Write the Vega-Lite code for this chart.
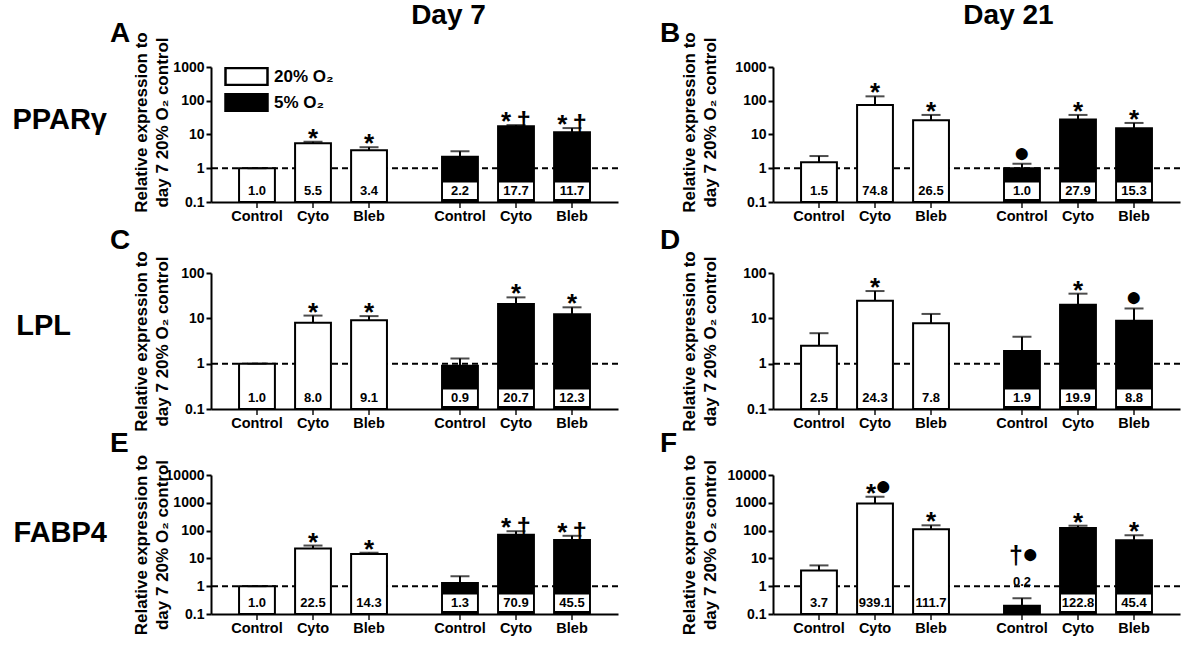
{
  "$schema": "https://vega.github.io/schema/vega-lite/v6.json",
  "background": "white",
  "padding": {"left": 12, "top": 1, "right": 5, "bottom": 5},
  "datasets": {
    "expr": [
      {"panel": "A", "oxygen": "20%", "treatment": "Control", "value": 1.0, "upper": 1.0, "sig": "", "dot": ""},
      {"panel": "A", "oxygen": "20%", "treatment": "Cyto", "value": 5.5, "upper": 6.1, "sig": "*", "dot": ""},
      {"panel": "A", "oxygen": "20%", "treatment": "Bleb", "value": 3.4, "upper": 4.2, "sig": "*", "dot": ""},
      {"panel": "A", "oxygen": "5%", "treatment": "Control", "value": 2.2, "upper": 3.2, "sig": "", "dot": ""},
      {"panel": "A", "oxygen": "5%", "treatment": "Cyto", "value": 17.7, "upper": 19.0, "sig": "*\u2009†", "dot": ""},
      {"panel": "A", "oxygen": "5%", "treatment": "Bleb", "value": 11.7, "upper": 15.5, "sig": "*\u2009†", "dot": ""},
      {"panel": "B", "oxygen": "20%", "treatment": "Control", "value": 1.5, "upper": 2.3, "sig": "", "dot": ""},
      {"panel": "B", "oxygen": "20%", "treatment": "Cyto", "value": 74.8, "upper": 135, "sig": "*", "dot": ""},
      {"panel": "B", "oxygen": "20%", "treatment": "Bleb", "value": 26.5, "upper": 38, "sig": "*", "dot": ""},
      {"panel": "B", "oxygen": "5%", "treatment": "Control", "value": 1.0, "upper": 1.35, "sig": "", "dot": "●"},
      {"panel": "B", "oxygen": "5%", "treatment": "Cyto", "value": 27.9, "upper": 38, "sig": "*", "dot": ""},
      {"panel": "B", "oxygen": "5%", "treatment": "Bleb", "value": 15.3, "upper": 22, "sig": "*", "dot": ""},
      {"panel": "C", "oxygen": "20%", "treatment": "Control", "value": 1.0, "upper": 1.0, "sig": "", "dot": ""},
      {"panel": "C", "oxygen": "20%", "treatment": "Cyto", "value": 8.0, "upper": 11.5, "sig": "*", "dot": ""},
      {"panel": "C", "oxygen": "20%", "treatment": "Bleb", "value": 9.1, "upper": 11.2, "sig": "*", "dot": ""},
      {"panel": "C", "oxygen": "5%", "treatment": "Control", "value": 0.9, "upper": 1.3, "sig": "", "dot": ""},
      {"panel": "C", "oxygen": "5%", "treatment": "Cyto", "value": 20.7, "upper": 29, "sig": "*", "dot": ""},
      {"panel": "C", "oxygen": "5%", "treatment": "Bleb", "value": 12.3, "upper": 17.5, "sig": "*", "dot": ""},
      {"panel": "D", "oxygen": "20%", "treatment": "Control", "value": 2.5, "upper": 4.7, "sig": "", "dot": ""},
      {"panel": "D", "oxygen": "20%", "treatment": "Cyto", "value": 24.3, "upper": 40, "sig": "*", "dot": ""},
      {"panel": "D", "oxygen": "20%", "treatment": "Bleb", "value": 7.8, "upper": 12.5, "sig": "", "dot": ""},
      {"panel": "D", "oxygen": "5%", "treatment": "Control", "value": 1.9, "upper": 3.9, "sig": "", "dot": ""},
      {"panel": "D", "oxygen": "5%", "treatment": "Cyto", "value": 19.9, "upper": 35, "sig": "*", "dot": ""},
      {"panel": "D", "oxygen": "5%", "treatment": "Bleb", "value": 8.8, "upper": 16.5, "sig": "", "dot": "●"},
      {"panel": "E", "oxygen": "20%", "treatment": "Control", "value": 1.0, "upper": 1.0, "sig": "", "dot": ""},
      {"panel": "E", "oxygen": "20%", "treatment": "Cyto", "value": 22.5, "upper": 29, "sig": "*", "dot": ""},
      {"panel": "E", "oxygen": "20%", "treatment": "Bleb", "value": 14.3, "upper": 16, "sig": "*", "dot": ""},
      {"panel": "E", "oxygen": "5%", "treatment": "Control", "value": 1.3, "upper": 2.3, "sig": "", "dot": ""},
      {"panel": "E", "oxygen": "5%", "treatment": "Cyto", "value": 70.9, "upper": 95, "sig": "*\u2009†", "dot": ""},
      {"panel": "E", "oxygen": "5%", "treatment": "Bleb", "value": 45.5, "upper": 65, "sig": "*\u2009†", "dot": ""},
      {"panel": "F", "oxygen": "20%", "treatment": "Control", "value": 3.7, "upper": 5.6, "sig": "", "dot": ""},
      {"panel": "F", "oxygen": "20%", "treatment": "Cyto", "value": 939.1, "upper": 1650, "sig": "*", "dot": "●"},
      {"panel": "F", "oxygen": "20%", "treatment": "Bleb", "value": 111.7, "upper": 155, "sig": "*", "dot": ""},
      {"panel": "F", "oxygen": "5%", "treatment": "Control", "value": 0.2, "upper": 0.37, "sig": "†", "dot": "●"},
      {"panel": "F", "oxygen": "5%", "treatment": "Cyto", "value": 122.8, "upper": 150, "sig": "*", "dot": ""},
      {"panel": "F", "oxygen": "5%", "treatment": "Bleb", "value": 45.4, "upper": 68, "sig": "*", "dot": ""}
    ]
  },
  "data": {"name": "expr"},
  "spacing": 2,
  "resolve": {"scale": {"fill": "independent"}, "legend": {"fill": "independent"}},
  "vconcat": [
    {
      "spacing": 41,
      "resolve": {"scale": {"fill": "independent"}, "legend": {"fill": "independent"}},
      "title": {"text": "PPARγ", "orient": "left", "anchor": "middle", "frame": "bounds", "angle": 0, "align": "left", "baseline": "middle", "offset": 3, "dy": 7, "fontSize": 29, "fontWeight": "bold", "color": "black"},
      "hconcat": [
        {
          "title": {"text": "Day 7", "anchor": "middle", "frame": "bounds", "dx": 84, "offset": -10, "fontSize": 28, "fontWeight": "bold", "color": "black"},
          "resolve": {"scale": {"fill": "independent"}, "legend": {"fill": "independent"}},
          "vconcat": [
            {
              "width": 407, "height": 135,
              "title": {"text": "A", "anchor": "start", "frame": "group", "dx": -101, "offset": -16, "fontSize": 28, "fontWeight": "bold", "color": "black"},
              "transform": [{"filter": "datum.panel === 'A'"}],
              "layer": [
                {"transform": [{"aggregate": [{"op": "count", "as": "n"}]}], "mark": {"type": "rule", "strokeDash": [6, 4], "strokeWidth": 2, "color": "black"}, "encoding": {"y": {"datum": 1, "type": "quantitative"}}},
                {"mark": {"type": "tick", "orient": "vertical", "size": 12, "thickness": 2, "color": "black"}, "encoding": {"x": {"field": "oxygen", "type": "nominal", "sort": ["20%", "5%"], "scale": {"paddingInner": 0.172, "paddingOuter": 0.0885}, "axis": {"labels": false, "ticks": false, "title": null, "domainWidth": 2, "domainColor": "black"}}, "xOffset": {"field": "treatment", "type": "nominal", "sort": ["Control", "Cyto", "Bleb"], "scale": {"paddingInner": 0.36, "paddingOuter": 0.18}}, "y": {"datum": 0.1, "type": "quantitative"}}},
                {"mark": {"type": "bar", "stroke": "black", "strokeWidth": 2}, "encoding": {"x": {"field": "oxygen", "type": "nominal", "sort": ["20%", "5%"]}, "xOffset": {"field": "treatment", "type": "nominal", "sort": ["Control", "Cyto", "Bleb"]}, "y": {"field": "value", "type": "quantitative", "scale": {"type": "log", "domain": [0.1, 1000]}, "axis": {"values": [0.1, 1, 10, 100, 1000], "labelExpr": "datum.value < 1 ? '0.1' : format(datum.value, 'd')", "title": ["Relative expression to", "day 7 20% O₂ control"], "titleY": 55, "minExtent": 33, "maxExtent": 33, "titlePadding": 7}}, "y2": {"datum": 0.1}, "fill": {"field": "oxygen", "type": "nominal", "scale": {"domain": ["20%", "5%"], "range": ["white", "black"]}, "legend": {"orient": "none", "legendX": 13, "legendY": 0, "title": null, "direction": "vertical", "symbolType": "M-1,-0.4H1V0.4H-1Z", "symbolSize": 1764, "symbolStrokeColor": "black", "symbolStrokeWidth": 2.5, "labelFontSize": 17, "labelFontWeight": "bold", "labelColor": "black", "labelFont": "Liberation Sans", "labelExpr": "datum.label + ' O₂'", "clipHeight": 19, "rowPadding": 7, "labelOffset": 5, "padding": 0}}}},
                {"mark": {"type": "rule", "strokeWidth": 2, "color": "black"}, "encoding": {"x": {"field": "oxygen", "type": "nominal", "sort": ["20%", "5%"]}, "xOffset": {"field": "treatment", "type": "nominal", "sort": ["Control", "Cyto", "Bleb"]}, "y": {"field": "value", "type": "quantitative"}, "y2": {"field": "upper"}}},
                {"mark": {"type": "tick", "size": 19, "thickness": 2, "color": "black"}, "encoding": {"x": {"field": "oxygen", "type": "nominal", "sort": ["20%", "5%"]}, "xOffset": {"field": "treatment", "type": "nominal", "sort": ["Control", "Cyto", "Bleb"]}, "y": {"field": "upper", "type": "quantitative"}}},
                {"transform": [{"filter": "datum.oxygen === '5%' && datum.value >= 0.5"}], "mark": {"type": "point", "shape": "M-1,-1.15H1V-0.18H-1Z", "size": 1156, "filled": true, "fill": "white", "opacity": 1, "strokeWidth": 0}, "encoding": {"x": {"field": "oxygen", "type": "nominal", "sort": ["20%", "5%"]}, "xOffset": {"field": "treatment", "type": "nominal", "sort": ["Control", "Cyto", "Bleb"]}, "y": {"datum": 0.1, "type": "quantitative"}}},
                {"transform": [{"filter": "datum.value >= 0.5"}], "mark": {"type": "text", "dy": -11, "fontSize": 13, "fontWeight": "bold", "baseline": "middle", "color": "black"}, "encoding": {"x": {"field": "oxygen", "type": "nominal", "sort": ["20%", "5%"]}, "xOffset": {"field": "treatment", "type": "nominal", "sort": ["Control", "Cyto", "Bleb"]}, "y": {"datum": 0.1, "type": "quantitative"}, "text": {"field": "value", "type": "quantitative", "format": ".1f"}}},
                {"mark": {"type": "text", "dy": 15, "fontSize": 14.5, "fontWeight": "bold", "baseline": "middle", "color": "black"}, "encoding": {"x": {"field": "oxygen", "type": "nominal", "sort": ["20%", "5%"]}, "xOffset": {"field": "treatment", "type": "nominal", "sort": ["Control", "Cyto", "Bleb"]}, "y": {"datum": 0.1, "type": "quantitative"}, "text": {"field": "treatment", "type": "nominal"}}},
                {"transform": [{"filter": "datum.sig !== '' && datum.dot === '' && datum.value >= 0.5"}], "mark": {"type": "text", "dy": 5, "fontSize": 26, "fontWeight": "bold", "baseline": "alphabetic", "color": "black"}, "encoding": {"x": {"field": "oxygen", "type": "nominal", "sort": ["20%", "5%"]}, "xOffset": {"field": "treatment", "type": "nominal", "sort": ["Control", "Cyto", "Bleb"]}, "y": {"field": "upper", "type": "quantitative"}, "text": {"field": "sig", "type": "nominal"}}}
              ]
            }
          ]
        },
        {
          "title": {"text": "Day 21", "anchor": "middle", "frame": "bounds", "dx": 88, "offset": -10, "fontSize": 28, "fontWeight": "bold", "color": "black"},
          "vconcat": [
            {
              "width": 407, "height": 135,
              "title": {"text": "B", "anchor": "start", "frame": "group", "dx": -113, "offset": -16, "fontSize": 28, "fontWeight": "bold", "color": "black"},
              "transform": [{"filter": "datum.panel === 'B'"}],
              "layer": [
                {"transform": [{"aggregate": [{"op": "count", "as": "n"}]}], "mark": {"type": "rule", "strokeDash": [6, 4], "strokeWidth": 2, "color": "black"}, "encoding": {"y": {"datum": 1, "type": "quantitative"}}},
                {"mark": {"type": "tick", "orient": "vertical", "size": 12, "thickness": 2, "color": "black"}, "encoding": {"x": {"field": "oxygen", "type": "nominal", "sort": ["20%", "5%"], "scale": {"paddingInner": 0.172, "paddingOuter": 0.0885}, "axis": {"labels": false, "ticks": false, "title": null, "domainWidth": 2, "domainColor": "black"}}, "xOffset": {"field": "treatment", "type": "nominal", "sort": ["Control", "Cyto", "Bleb"], "scale": {"paddingInner": 0.36, "paddingOuter": 0.18}}, "y": {"datum": 0.1, "type": "quantitative"}}},
                {"mark": {"type": "bar", "stroke": "black", "strokeWidth": 2}, "encoding": {"x": {"field": "oxygen", "type": "nominal", "sort": ["20%", "5%"]}, "xOffset": {"field": "treatment", "type": "nominal", "sort": ["Control", "Cyto", "Bleb"]}, "y": {"field": "value", "type": "quantitative", "scale": {"type": "log", "domain": [0.1, 1000]}, "axis": {"values": [0.1, 1, 10, 100, 1000], "labelExpr": "datum.value < 1 ? '0.1' : format(datum.value, 'd')", "title": ["Relative expression to", "day 7 20% O₂ control"], "titleY": 55, "minExtent": 45, "maxExtent": 45, "titlePadding": 9}}, "y2": {"datum": 0.1}, "fill": {"condition": {"test": "datum.oxygen === '5%'", "value": "black"}, "value": "white"}}},
                {"mark": {"type": "rule", "strokeWidth": 2, "color": "black"}, "encoding": {"x": {"field": "oxygen", "type": "nominal", "sort": ["20%", "5%"]}, "xOffset": {"field": "treatment", "type": "nominal", "sort": ["Control", "Cyto", "Bleb"]}, "y": {"field": "value", "type": "quantitative"}, "y2": {"field": "upper"}}},
                {"mark": {"type": "tick", "size": 19, "thickness": 2, "color": "black"}, "encoding": {"x": {"field": "oxygen", "type": "nominal", "sort": ["20%", "5%"]}, "xOffset": {"field": "treatment", "type": "nominal", "sort": ["Control", "Cyto", "Bleb"]}, "y": {"field": "upper", "type": "quantitative"}}},
                {"transform": [{"filter": "datum.oxygen === '5%' && datum.value >= 0.5"}], "mark": {"type": "point", "shape": "M-1,-1.15H1V-0.18H-1Z", "size": 1156, "filled": true, "fill": "white", "opacity": 1, "strokeWidth": 0}, "encoding": {"x": {"field": "oxygen", "type": "nominal", "sort": ["20%", "5%"]}, "xOffset": {"field": "treatment", "type": "nominal", "sort": ["Control", "Cyto", "Bleb"]}, "y": {"datum": 0.1, "type": "quantitative"}}},
                {"transform": [{"filter": "datum.value >= 0.5"}], "mark": {"type": "text", "dy": -11, "fontSize": 13, "fontWeight": "bold", "baseline": "middle", "color": "black"}, "encoding": {"x": {"field": "oxygen", "type": "nominal", "sort": ["20%", "5%"]}, "xOffset": {"field": "treatment", "type": "nominal", "sort": ["Control", "Cyto", "Bleb"]}, "y": {"datum": 0.1, "type": "quantitative"}, "text": {"field": "value", "type": "quantitative", "format": ".1f"}}},
                {"mark": {"type": "text", "dy": 15, "fontSize": 14.5, "fontWeight": "bold", "baseline": "middle", "color": "black"}, "encoding": {"x": {"field": "oxygen", "type": "nominal", "sort": ["20%", "5%"]}, "xOffset": {"field": "treatment", "type": "nominal", "sort": ["Control", "Cyto", "Bleb"]}, "y": {"datum": 0.1, "type": "quantitative"}, "text": {"field": "treatment", "type": "nominal"}}},
                {"transform": [{"filter": "datum.sig !== '' && datum.dot === '' && datum.value >= 0.5"}], "mark": {"type": "text", "dy": 5, "fontSize": 26, "fontWeight": "bold", "baseline": "alphabetic", "color": "black"}, "encoding": {"x": {"field": "oxygen", "type": "nominal", "sort": ["20%", "5%"]}, "xOffset": {"field": "treatment", "type": "nominal", "sort": ["Control", "Cyto", "Bleb"]}, "y": {"field": "upper", "type": "quantitative"}, "text": {"field": "sig", "type": "nominal"}}},
                {"transform": [{"filter": "datum.dot !== '' && datum.sig === ''"}], "mark": {"type": "text", "dy": -2, "fontSize": 28, "fontWeight": "bold", "baseline": "alphabetic", "color": "black"}, "encoding": {"x": {"field": "oxygen", "type": "nominal", "sort": ["20%", "5%"]}, "xOffset": {"field": "treatment", "type": "nominal", "sort": ["Control", "Cyto", "Bleb"]}, "y": {"field": "upper", "type": "quantitative"}, "text": {"field": "dot", "type": "nominal"}}}
              ]
            }
          ]
        }
      ]
    },
    {
      "spacing": -2,
      "vconcat": [
        {
          "spacing": 41,
          "title": {"text": "LPL", "orient": "left", "anchor": "middle", "frame": "bounds", "angle": 0, "align": "left", "baseline": "middle", "offset": 3, "dx": -36, "dy": -3, "fontSize": 29, "fontWeight": "bold", "color": "black"},
          "hconcat": [
            {
              "width": 407, "height": 136,
              "title": {"text": "C", "anchor": "start", "frame": "group", "dx": -101, "offset": -4, "fontSize": 28, "fontWeight": "bold", "color": "black"},
              "transform": [{"filter": "datum.panel === 'C'"}],
              "layer": [
                {"transform": [{"aggregate": [{"op": "count", "as": "n"}]}], "mark": {"type": "rule", "strokeDash": [6, 4], "strokeWidth": 2, "color": "black"}, "encoding": {"y": {"datum": 1, "type": "quantitative"}}},
                {"mark": {"type": "tick", "orient": "vertical", "size": 12, "thickness": 2, "color": "black"}, "encoding": {"x": {"field": "oxygen", "type": "nominal", "sort": ["20%", "5%"], "scale": {"paddingInner": 0.172, "paddingOuter": 0.0885}, "axis": {"labels": false, "ticks": false, "title": null, "domainWidth": 2, "domainColor": "black"}}, "xOffset": {"field": "treatment", "type": "nominal", "sort": ["Control", "Cyto", "Bleb"], "scale": {"paddingInner": 0.36, "paddingOuter": 0.18}}, "y": {"datum": 0.1, "type": "quantitative"}}},
                {"mark": {"type": "bar", "stroke": "black", "strokeWidth": 2}, "encoding": {"x": {"field": "oxygen", "type": "nominal", "sort": ["20%", "5%"]}, "xOffset": {"field": "treatment", "type": "nominal", "sort": ["Control", "Cyto", "Bleb"]}, "y": {"field": "value", "type": "quantitative", "scale": {"type": "log", "domain": [0.1, 100]}, "axis": {"values": [0.1, 1, 10, 100], "labelExpr": "datum.value < 1 ? '0.1' : format(datum.value, 'd')", "title": ["Relative expression to", "day 7 20% O₂ control"], "minExtent": 33, "maxExtent": 33, "titlePadding": 7}}, "y2": {"datum": 0.1}, "fill": {"condition": {"test": "datum.oxygen === '5%'", "value": "black"}, "value": "white"}}},
                {"mark": {"type": "rule", "strokeWidth": 2, "color": "black"}, "encoding": {"x": {"field": "oxygen", "type": "nominal", "sort": ["20%", "5%"]}, "xOffset": {"field": "treatment", "type": "nominal", "sort": ["Control", "Cyto", "Bleb"]}, "y": {"field": "value", "type": "quantitative"}, "y2": {"field": "upper"}}},
                {"mark": {"type": "tick", "size": 19, "thickness": 2, "color": "black"}, "encoding": {"x": {"field": "oxygen", "type": "nominal", "sort": ["20%", "5%"]}, "xOffset": {"field": "treatment", "type": "nominal", "sort": ["Control", "Cyto", "Bleb"]}, "y": {"field": "upper", "type": "quantitative"}}},
                {"transform": [{"filter": "datum.oxygen === '5%' && datum.value >= 0.5"}], "mark": {"type": "point", "shape": "M-1,-1.15H1V-0.18H-1Z", "size": 1156, "filled": true, "fill": "white", "opacity": 1, "strokeWidth": 0}, "encoding": {"x": {"field": "oxygen", "type": "nominal", "sort": ["20%", "5%"]}, "xOffset": {"field": "treatment", "type": "nominal", "sort": ["Control", "Cyto", "Bleb"]}, "y": {"datum": 0.1, "type": "quantitative"}}},
                {"transform": [{"filter": "datum.value >= 0.5"}], "mark": {"type": "text", "dy": -11, "fontSize": 13, "fontWeight": "bold", "baseline": "middle", "color": "black"}, "encoding": {"x": {"field": "oxygen", "type": "nominal", "sort": ["20%", "5%"]}, "xOffset": {"field": "treatment", "type": "nominal", "sort": ["Control", "Cyto", "Bleb"]}, "y": {"datum": 0.1, "type": "quantitative"}, "text": {"field": "value", "type": "quantitative", "format": ".1f"}}},
                {"mark": {"type": "text", "dy": 15, "fontSize": 14.5, "fontWeight": "bold", "baseline": "middle", "color": "black"}, "encoding": {"x": {"field": "oxygen", "type": "nominal", "sort": ["20%", "5%"]}, "xOffset": {"field": "treatment", "type": "nominal", "sort": ["Control", "Cyto", "Bleb"]}, "y": {"datum": 0.1, "type": "quantitative"}, "text": {"field": "treatment", "type": "nominal"}}},
                {"transform": [{"filter": "datum.sig !== '' && datum.dot === '' && datum.value >= 0.5"}], "mark": {"type": "text", "dy": 5, "fontSize": 26, "fontWeight": "bold", "baseline": "alphabetic", "color": "black"}, "encoding": {"x": {"field": "oxygen", "type": "nominal", "sort": ["20%", "5%"]}, "xOffset": {"field": "treatment", "type": "nominal", "sort": ["Control", "Cyto", "Bleb"]}, "y": {"field": "upper", "type": "quantitative"}, "text": {"field": "sig", "type": "nominal"}}}
              ]
            },
            {
              "width": 407, "height": 136,
              "title": {"text": "D", "anchor": "start", "frame": "group", "dx": -113, "offset": -4, "fontSize": 28, "fontWeight": "bold", "color": "black"},
              "transform": [{"filter": "datum.panel === 'D'"}],
              "layer": [
                {"transform": [{"aggregate": [{"op": "count", "as": "n"}]}], "mark": {"type": "rule", "strokeDash": [6, 4], "strokeWidth": 2, "color": "black"}, "encoding": {"y": {"datum": 1, "type": "quantitative"}}},
                {"mark": {"type": "tick", "orient": "vertical", "size": 12, "thickness": 2, "color": "black"}, "encoding": {"x": {"field": "oxygen", "type": "nominal", "sort": ["20%", "5%"], "scale": {"paddingInner": 0.172, "paddingOuter": 0.0885}, "axis": {"labels": false, "ticks": false, "title": null, "domainWidth": 2, "domainColor": "black"}}, "xOffset": {"field": "treatment", "type": "nominal", "sort": ["Control", "Cyto", "Bleb"], "scale": {"paddingInner": 0.36, "paddingOuter": 0.18}}, "y": {"datum": 0.1, "type": "quantitative"}}},
                {"mark": {"type": "bar", "stroke": "black", "strokeWidth": 2}, "encoding": {"x": {"field": "oxygen", "type": "nominal", "sort": ["20%", "5%"]}, "xOffset": {"field": "treatment", "type": "nominal", "sort": ["Control", "Cyto", "Bleb"]}, "y": {"field": "value", "type": "quantitative", "scale": {"type": "log", "domain": [0.1, 100]}, "axis": {"values": [0.1, 1, 10, 100], "labelExpr": "datum.value < 1 ? '0.1' : format(datum.value, 'd')", "title": ["Relative expression to", "day 7 20% O₂ control"], "minExtent": 45, "maxExtent": 45, "titlePadding": 9}}, "y2": {"datum": 0.1}, "fill": {"condition": {"test": "datum.oxygen === '5%'", "value": "black"}, "value": "white"}}},
                {"mark": {"type": "rule", "strokeWidth": 2, "color": "black"}, "encoding": {"x": {"field": "oxygen", "type": "nominal", "sort": ["20%", "5%"]}, "xOffset": {"field": "treatment", "type": "nominal", "sort": ["Control", "Cyto", "Bleb"]}, "y": {"field": "value", "type": "quantitative"}, "y2": {"field": "upper"}}},
                {"mark": {"type": "tick", "size": 19, "thickness": 2, "color": "black"}, "encoding": {"x": {"field": "oxygen", "type": "nominal", "sort": ["20%", "5%"]}, "xOffset": {"field": "treatment", "type": "nominal", "sort": ["Control", "Cyto", "Bleb"]}, "y": {"field": "upper", "type": "quantitative"}}},
                {"transform": [{"filter": "datum.oxygen === '5%' && datum.value >= 0.5"}], "mark": {"type": "point", "shape": "M-1,-1.15H1V-0.18H-1Z", "size": 1156, "filled": true, "fill": "white", "opacity": 1, "strokeWidth": 0}, "encoding": {"x": {"field": "oxygen", "type": "nominal", "sort": ["20%", "5%"]}, "xOffset": {"field": "treatment", "type": "nominal", "sort": ["Control", "Cyto", "Bleb"]}, "y": {"datum": 0.1, "type": "quantitative"}}},
                {"transform": [{"filter": "datum.value >= 0.5"}], "mark": {"type": "text", "dy": -11, "fontSize": 13, "fontWeight": "bold", "baseline": "middle", "color": "black"}, "encoding": {"x": {"field": "oxygen", "type": "nominal", "sort": ["20%", "5%"]}, "xOffset": {"field": "treatment", "type": "nominal", "sort": ["Control", "Cyto", "Bleb"]}, "y": {"datum": 0.1, "type": "quantitative"}, "text": {"field": "value", "type": "quantitative", "format": ".1f"}}},
                {"mark": {"type": "text", "dy": 15, "fontSize": 14.5, "fontWeight": "bold", "baseline": "middle", "color": "black"}, "encoding": {"x": {"field": "oxygen", "type": "nominal", "sort": ["20%", "5%"]}, "xOffset": {"field": "treatment", "type": "nominal", "sort": ["Control", "Cyto", "Bleb"]}, "y": {"datum": 0.1, "type": "quantitative"}, "text": {"field": "treatment", "type": "nominal"}}},
                {"transform": [{"filter": "datum.sig !== '' && datum.dot === '' && datum.value >= 0.5"}], "mark": {"type": "text", "dy": 5, "fontSize": 26, "fontWeight": "bold", "baseline": "alphabetic", "color": "black"}, "encoding": {"x": {"field": "oxygen", "type": "nominal", "sort": ["20%", "5%"]}, "xOffset": {"field": "treatment", "type": "nominal", "sort": ["Control", "Cyto", "Bleb"]}, "y": {"field": "upper", "type": "quantitative"}, "text": {"field": "sig", "type": "nominal"}}},
                {"transform": [{"filter": "datum.dot !== '' && datum.sig === ''"}], "mark": {"type": "text", "dy": -2, "fontSize": 28, "fontWeight": "bold", "baseline": "alphabetic", "color": "black"}, "encoding": {"x": {"field": "oxygen", "type": "nominal", "sort": ["20%", "5%"]}, "xOffset": {"field": "treatment", "type": "nominal", "sort": ["Control", "Cyto", "Bleb"]}, "y": {"field": "upper", "type": "quantitative"}, "text": {"field": "dot", "type": "nominal"}}}
              ]
            }
          ]
        },
        {
          "spacing": 41,
          "title": {"text": "FABP4", "orient": "left", "anchor": "middle", "frame": "bounds", "angle": 0, "align": "left", "baseline": "middle", "offset": 3, "fontSize": 29, "fontWeight": "bold", "color": "black"},
          "hconcat": [
            {
              "width": 407, "height": 139,
              "title": {"text": "E", "anchor": "start", "frame": "group", "dx": -101, "offset": -4, "fontSize": 28, "fontWeight": "bold", "color": "black"},
              "transform": [{"filter": "datum.panel === 'E'"}],
              "layer": [
                {"transform": [{"aggregate": [{"op": "count", "as": "n"}]}], "mark": {"type": "rule", "strokeDash": [6, 4], "strokeWidth": 2, "color": "black"}, "encoding": {"y": {"datum": 1, "type": "quantitative"}}},
                {"mark": {"type": "tick", "orient": "vertical", "size": 12, "thickness": 2, "color": "black"}, "encoding": {"x": {"field": "oxygen", "type": "nominal", "sort": ["20%", "5%"], "scale": {"paddingInner": 0.172, "paddingOuter": 0.0885}, "axis": {"labels": false, "ticks": false, "title": null, "domainWidth": 2, "domainColor": "black"}}, "xOffset": {"field": "treatment", "type": "nominal", "sort": ["Control", "Cyto", "Bleb"], "scale": {"paddingInner": 0.36, "paddingOuter": 0.18}}, "y": {"datum": 0.1, "type": "quantitative"}}},
                {"mark": {"type": "bar", "stroke": "black", "strokeWidth": 2}, "encoding": {"x": {"field": "oxygen", "type": "nominal", "sort": ["20%", "5%"]}, "xOffset": {"field": "treatment", "type": "nominal", "sort": ["Control", "Cyto", "Bleb"]}, "y": {"field": "value", "type": "quantitative", "scale": {"type": "log", "domain": [0.1, 10000]}, "axis": {"values": [0.1, 1, 10, 100, 1000, 10000], "labelExpr": "datum.value < 1 ? '0.1' : format(datum.value, 'd')", "title": ["Relative expression to", "day 7 20% O₂ control"], "minExtent": 33, "maxExtent": 33, "titlePadding": 7}}, "y2": {"datum": 0.1}, "fill": {"condition": {"test": "datum.oxygen === '5%'", "value": "black"}, "value": "white"}}},
                {"mark": {"type": "rule", "strokeWidth": 2, "color": "black"}, "encoding": {"x": {"field": "oxygen", "type": "nominal", "sort": ["20%", "5%"]}, "xOffset": {"field": "treatment", "type": "nominal", "sort": ["Control", "Cyto", "Bleb"]}, "y": {"field": "value", "type": "quantitative"}, "y2": {"field": "upper"}}},
                {"mark": {"type": "tick", "size": 19, "thickness": 2, "color": "black"}, "encoding": {"x": {"field": "oxygen", "type": "nominal", "sort": ["20%", "5%"]}, "xOffset": {"field": "treatment", "type": "nominal", "sort": ["Control", "Cyto", "Bleb"]}, "y": {"field": "upper", "type": "quantitative"}}},
                {"transform": [{"filter": "datum.oxygen === '5%' && datum.value >= 0.5"}], "mark": {"type": "point", "shape": "M-1,-1.15H1V-0.18H-1Z", "size": 1156, "filled": true, "fill": "white", "opacity": 1, "strokeWidth": 0}, "encoding": {"x": {"field": "oxygen", "type": "nominal", "sort": ["20%", "5%"]}, "xOffset": {"field": "treatment", "type": "nominal", "sort": ["Control", "Cyto", "Bleb"]}, "y": {"datum": 0.1, "type": "quantitative"}}},
                {"transform": [{"filter": "datum.value >= 0.5"}], "mark": {"type": "text", "dy": -11, "fontSize": 13, "fontWeight": "bold", "baseline": "middle", "color": "black"}, "encoding": {"x": {"field": "oxygen", "type": "nominal", "sort": ["20%", "5%"]}, "xOffset": {"field": "treatment", "type": "nominal", "sort": ["Control", "Cyto", "Bleb"]}, "y": {"datum": 0.1, "type": "quantitative"}, "text": {"field": "value", "type": "quantitative", "format": ".1f"}}},
                {"mark": {"type": "text", "dy": 15, "fontSize": 14.5, "fontWeight": "bold", "baseline": "middle", "color": "black"}, "encoding": {"x": {"field": "oxygen", "type": "nominal", "sort": ["20%", "5%"]}, "xOffset": {"field": "treatment", "type": "nominal", "sort": ["Control", "Cyto", "Bleb"]}, "y": {"datum": 0.1, "type": "quantitative"}, "text": {"field": "treatment", "type": "nominal"}}},
                {"transform": [{"filter": "datum.sig !== '' && datum.dot === '' && datum.value >= 0.5"}], "mark": {"type": "text", "dy": 5, "fontSize": 26, "fontWeight": "bold", "baseline": "alphabetic", "color": "black"}, "encoding": {"x": {"field": "oxygen", "type": "nominal", "sort": ["20%", "5%"]}, "xOffset": {"field": "treatment", "type": "nominal", "sort": ["Control", "Cyto", "Bleb"]}, "y": {"field": "upper", "type": "quantitative"}, "text": {"field": "sig", "type": "nominal"}}}
              ]
            },
            {
              "width": 407, "height": 139,
              "title": {"text": "F", "anchor": "start", "frame": "group", "dx": -113, "offset": -4, "fontSize": 28, "fontWeight": "bold", "color": "black"},
              "transform": [{"filter": "datum.panel === 'F'"}],
              "layer": [
                {"transform": [{"aggregate": [{"op": "count", "as": "n"}]}], "mark": {"type": "rule", "strokeDash": [6, 4], "strokeWidth": 2, "color": "black"}, "encoding": {"y": {"datum": 1, "type": "quantitative"}}},
                {"mark": {"type": "tick", "orient": "vertical", "size": 12, "thickness": 2, "color": "black"}, "encoding": {"x": {"field": "oxygen", "type": "nominal", "sort": ["20%", "5%"], "scale": {"paddingInner": 0.172, "paddingOuter": 0.0885}, "axis": {"labels": false, "ticks": false, "title": null, "domainWidth": 2, "domainColor": "black"}}, "xOffset": {"field": "treatment", "type": "nominal", "sort": ["Control", "Cyto", "Bleb"], "scale": {"paddingInner": 0.36, "paddingOuter": 0.18}}, "y": {"datum": 0.1, "type": "quantitative"}}},
                {"mark": {"type": "bar", "stroke": "black", "strokeWidth": 2}, "encoding": {"x": {"field": "oxygen", "type": "nominal", "sort": ["20%", "5%"]}, "xOffset": {"field": "treatment", "type": "nominal", "sort": ["Control", "Cyto", "Bleb"]}, "y": {"field": "value", "type": "quantitative", "scale": {"type": "log", "domain": [0.1, 10000]}, "axis": {"values": [0.1, 1, 10, 100, 1000, 10000], "labelExpr": "datum.value < 1 ? '0.1' : format(datum.value, 'd')", "title": ["Relative expression to", "day 7 20% O₂ control"], "minExtent": 45, "maxExtent": 45, "titlePadding": 9}}, "y2": {"datum": 0.1}, "fill": {"condition": {"test": "datum.oxygen === '5%'", "value": "black"}, "value": "white"}}},
                {"mark": {"type": "rule", "strokeWidth": 2, "color": "black"}, "encoding": {"x": {"field": "oxygen", "type": "nominal", "sort": ["20%", "5%"]}, "xOffset": {"field": "treatment", "type": "nominal", "sort": ["Control", "Cyto", "Bleb"]}, "y": {"field": "value", "type": "quantitative"}, "y2": {"field": "upper"}}},
                {"mark": {"type": "tick", "size": 19, "thickness": 2, "color": "black"}, "encoding": {"x": {"field": "oxygen", "type": "nominal", "sort": ["20%", "5%"]}, "xOffset": {"field": "treatment", "type": "nominal", "sort": ["Control", "Cyto", "Bleb"]}, "y": {"field": "upper", "type": "quantitative"}}},
                {"transform": [{"filter": "datum.oxygen === '5%' && datum.value >= 0.5"}], "mark": {"type": "point", "shape": "M-1,-1.15H1V-0.18H-1Z", "size": 1156, "filled": true, "fill": "white", "opacity": 1, "strokeWidth": 0}, "encoding": {"x": {"field": "oxygen", "type": "nominal", "sort": ["20%", "5%"]}, "xOffset": {"field": "treatment", "type": "nominal", "sort": ["Control", "Cyto", "Bleb"]}, "y": {"datum": 0.1, "type": "quantitative"}}},
                {"transform": [{"filter": "datum.value >= 0.5"}], "mark": {"type": "text", "dy": -11, "fontSize": 13, "fontWeight": "bold", "baseline": "middle", "color": "black"}, "encoding": {"x": {"field": "oxygen", "type": "nominal", "sort": ["20%", "5%"]}, "xOffset": {"field": "treatment", "type": "nominal", "sort": ["Control", "Cyto", "Bleb"]}, "y": {"datum": 0.1, "type": "quantitative"}, "text": {"field": "value", "type": "quantitative", "format": ".1f"}}},
                {"transform": [{"filter": "datum.value < 0.5"}], "mark": {"type": "text", "dy": -16, "fontSize": 13, "fontWeight": "bold", "baseline": "middle", "color": "black"}, "encoding": {"x": {"field": "oxygen", "type": "nominal", "sort": ["20%", "5%"]}, "xOffset": {"field": "treatment", "type": "nominal", "sort": ["Control", "Cyto", "Bleb"]}, "y": {"field": "upper", "type": "quantitative"}, "text": {"field": "value", "type": "quantitative", "format": ".1f"}}},
                {"mark": {"type": "text", "dy": 15, "fontSize": 14.5, "fontWeight": "bold", "baseline": "middle", "color": "black"}, "encoding": {"x": {"field": "oxygen", "type": "nominal", "sort": ["20%", "5%"]}, "xOffset": {"field": "treatment", "type": "nominal", "sort": ["Control", "Cyto", "Bleb"]}, "y": {"datum": 0.1, "type": "quantitative"}, "text": {"field": "treatment", "type": "nominal"}}},
                {"transform": [{"filter": "datum.sig !== '' && datum.dot === '' && datum.value >= 0.5"}], "mark": {"type": "text", "dy": 5, "fontSize": 26, "fontWeight": "bold", "baseline": "alphabetic", "color": "black"}, "encoding": {"x": {"field": "oxygen", "type": "nominal", "sort": ["20%", "5%"]}, "xOffset": {"field": "treatment", "type": "nominal", "sort": ["Control", "Cyto", "Bleb"]}, "y": {"field": "upper", "type": "quantitative"}, "text": {"field": "sig", "type": "nominal"}}},
                {"transform": [{"filter": "datum.sig !== '' && datum.dot !== '' && datum.value >= 0.5"}], "mark": {"type": "text", "dy": 5, "dx": 1, "align": "right", "fontSize": 26, "fontWeight": "bold", "baseline": "alphabetic", "color": "black"}, "encoding": {"x": {"field": "oxygen", "type": "nominal", "sort": ["20%", "5%"]}, "xOffset": {"field": "treatment", "type": "nominal", "sort": ["Control", "Cyto", "Bleb"]}, "y": {"field": "upper", "type": "quantitative"}, "text": {"field": "sig", "type": "nominal"}}},
                {"transform": [{"filter": "datum.sig !== '' && datum.dot !== '' && datum.value >= 0.5"}], "mark": {"type": "text", "dy": -2, "dx": 0, "align": "left", "fontSize": 28, "fontWeight": "bold", "baseline": "alphabetic", "color": "black"}, "encoding": {"x": {"field": "oxygen", "type": "nominal", "sort": ["20%", "5%"]}, "xOffset": {"field": "treatment", "type": "nominal", "sort": ["Control", "Cyto", "Bleb"]}, "y": {"field": "upper", "type": "quantitative"}, "text": {"field": "dot", "type": "nominal"}}},
                {"transform": [{"filter": "datum.value < 0.5"}], "mark": {"type": "text", "dy": -34, "dx": 1, "align": "right", "fontSize": 25, "fontWeight": "bold", "baseline": "alphabetic", "color": "black"}, "encoding": {"x": {"field": "oxygen", "type": "nominal", "sort": ["20%", "5%"]}, "xOffset": {"field": "treatment", "type": "nominal", "sort": ["Control", "Cyto", "Bleb"]}, "y": {"field": "upper", "type": "quantitative"}, "text": {"field": "sig", "type": "nominal"}}},
                {"transform": [{"filter": "datum.value < 0.5"}], "mark": {"type": "text", "dy": -35, "dx": 0, "align": "left", "fontSize": 28, "fontWeight": "bold", "baseline": "alphabetic", "color": "black"}, "encoding": {"x": {"field": "oxygen", "type": "nominal", "sort": ["20%", "5%"]}, "xOffset": {"field": "treatment", "type": "nominal", "sort": ["Control", "Cyto", "Bleb"]}, "y": {"field": "upper", "type": "quantitative"}, "text": {"field": "dot", "type": "nominal"}}}
              ]
            }
          ]
        }
      ]
    }
  ],
  "config": {
    "font": "Liberation Sans",
    "view": {"stroke": null},
    "title": {"font": "Liberation Sans", "fontWeight": "bold", "color": "black"},
    "text": {"font": "Liberation Sans"},
    "axis": {
      "labelFont": "Liberation Sans", "titleFont": "Liberation Sans",
      "labelFontSize": 14, "labelFontWeight": "bold", "labelColor": "black",
      "titleFontSize": 17, "titleFontWeight": "bold", "titleColor": "black", "titleLineHeight": 21,
      "domainColor": "black", "domainWidth": 2, "tickColor": "black", "tickWidth": 2, "tickSize": 5,
      "labelPadding": 2, "grid": false, "labelOverlap": false, "labelFlush": false
    }
  }
}
